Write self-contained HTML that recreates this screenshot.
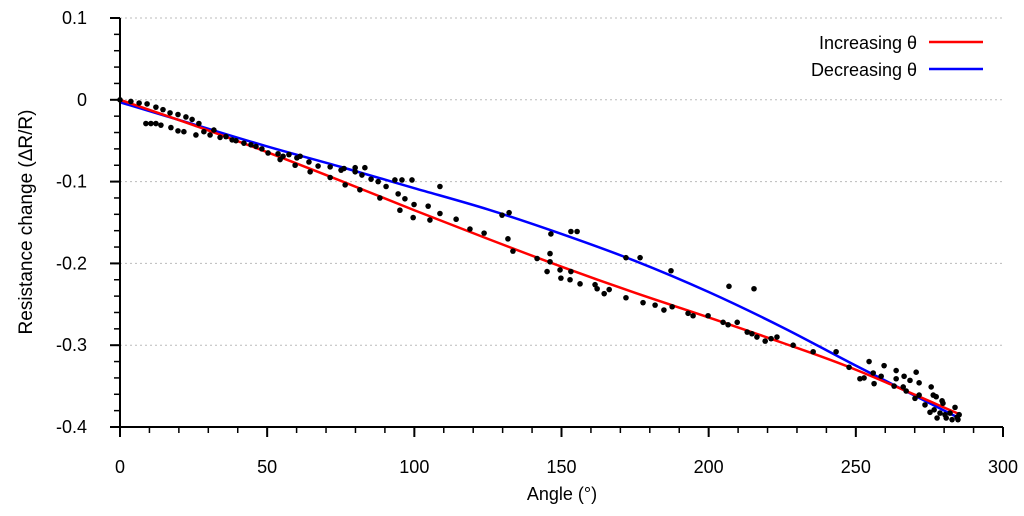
<!DOCTYPE html>
<html><head><meta charset="utf-8"><style>
html,body{margin:0;padding:0;background:#fff;}
svg{display:block;font-family:"Liberation Sans",sans-serif;}
</style></head><body>
<svg id="chart" width="1024" height="516">
<g id="grid"></g>
<g id="curves"></g>
<g id="points"></g>
<g id="axes"></g>
<text x="562" y="500" text-anchor="middle" font-size="18">Angle (°)</text>
<text transform="translate(32,222) rotate(-90)" text-anchor="middle" font-size="19">Resistance change (ΔR/R)</text>
<g>
<g>
<text x="917" y="49" text-anchor="end" font-size="18">Increasing θ</text>
<line x1="929" y1="42" x2="983" y2="42" stroke="#f00" stroke-width="2.5"/></g>
<g>
<text x="917" y="76" text-anchor="end" font-size="18">Decreasing θ</text>
<line x1="929" y1="69" x2="983" y2="69" stroke="#00f" stroke-width="2.5"/></g>
</g>
</svg>
<script>
const xTicks=[0,50,100,150,200,250,300];
const yTicks=[0.1,0,-0.1,-0.2,-0.3,-0.4];
const yTickLabels=["0.1","0","-0.1","-0.2","-0.3","-0.4"];
const incX=[0,25,50,75,100,125,150,175,200,225,250,285];
const incY=[0,-0.031,-0.064,-0.099,-0.135,-0.170,-0.204,-0.236,-0.266,-0.297,-0.330,-0.384];
const decX=[0,25,50,75,100,125,150,175,200,225,250,285];
const decY=[-0.003,-0.030,-0.057,-0.082,-0.108,-0.134,-0.164,-0.197,-0.235,-0.278,-0.325,-0.389];
const ptX=[0,3.7,6.5,9.2,12.2,14.6,17.0,19.7,22.4,24.5,26.8,8.8,10.5,12.2,13.9,17.3,19.7,21.7,25.8,28.5,30.6,31.9,34.0,36.0,38.1,39.4,42.1,44.5,46.2,48.2,50.3,53.7,55.4,57.4,60.1,61.2,64.2,67.3,71.4,75.1,76.1,79.9,82.2,85.3,87.7,90.4,94.5,96.8,99.9,104.7,108.7,114.2,118.9,123.7,131.8,54.4,59.5,64.6,71.4,76.5,81.5,88.3,95.1,99.6,105.3,79.9,83.2,93.4,95.8,99.2,108.7,129.8,132.2,146.4,153.2,155.3,171.9,176.7,187.2,206.9,215.4,243.3,133.5,141.7,145.1,146.1,146.1,149.5,149.8,152.9,153.2,156.3,161.4,162.1,164.5,166.2,171.9,177.7,181.8,184.8,187.6,193.0,194.7,199.8,204.9,206.6,209.7,213.1,214.7,216.4,219.2,221.2,223.2,228.7,235.5,247.7,251.4,252.8,254.5,255.9,256.2,258.6,259.6,263.0,263.7,263.7,266.1,266.4,268.4,267.1,270.5,271.5,270.1,271.5,273.5,275.6,276.3,277.3,279.3,279.6,275.2,277.6,278.6,280.7,282.0,283.7,284.4,285.1,284.7,282.7,280.3,276.6];
const ptY=[0,-0.002,-0.004,-0.005,-0.009,-0.012,-0.016,-0.018,-0.021,-0.024,-0.029,-0.029,-0.029,-0.029,-0.031,-0.034,-0.038,-0.039,-0.043,-0.039,-0.043,-0.037,-0.046,-0.045,-0.049,-0.050,-0.053,-0.055,-0.057,-0.060,-0.065,-0.066,-0.069,-0.067,-0.071,-0.069,-0.076,-0.081,-0.082,-0.086,-0.084,-0.088,-0.092,-0.097,-0.100,-0.106,-0.115,-0.121,-0.128,-0.130,-0.139,-0.146,-0.158,-0.163,-0.170,-0.073,-0.080,-0.088,-0.095,-0.104,-0.110,-0.120,-0.135,-0.144,-0.147,-0.083,-0.083,-0.098,-0.098,-0.098,-0.106,-0.141,-0.138,-0.164,-0.161,-0.161,-0.193,-0.193,-0.209,-0.228,-0.231,-0.308,-0.185,-0.194,-0.210,-0.188,-0.198,-0.208,-0.218,-0.220,-0.210,-0.225,-0.226,-0.231,-0.237,-0.232,-0.242,-0.248,-0.251,-0.257,-0.253,-0.261,-0.264,-0.264,-0.272,-0.275,-0.272,-0.284,-0.286,-0.290,-0.295,-0.292,-0.290,-0.300,-0.308,-0.327,-0.341,-0.340,-0.320,-0.334,-0.347,-0.338,-0.325,-0.350,-0.331,-0.341,-0.351,-0.338,-0.343,-0.356,-0.333,-0.346,-0.365,-0.361,-0.373,-0.351,-0.361,-0.363,-0.368,-0.371,-0.382,-0.389,-0.383,-0.389,-0.383,-0.376,-0.388,-0.385,-0.391,-0.391,-0.385,-0.379];

const X0=120,X1=1003,Y0=427,Y1=18,xmin=0,xmax=300,ymin=-0.4,ymax=0.1;
const sx=v=>X0+(v-xmin)/(xmax-xmin)*(X1-X0);
const sy=v=>Y0-(v-ymin)/(ymax-ymin)*(Y0-Y1);
const NS="http://www.w3.org/2000/svg";
function mk(tag,attrs,parent){const e=document.createElementNS(NS,tag);for(const k in attrs)e.setAttribute(k,attrs[k]);parent.appendChild(e);return e;}
const grid=document.getElementById('grid'),axes=document.getElementById('axes'),curves=document.getElementById('curves'),points=document.getElementById('points');

yTicks.forEach((v,i)=>{
  if(v>ymin){const g=mk('line',{x1:X0,x2:X1,y1:sy(v),y2:sy(v),stroke:'#bbb','stroke-width':1,'stroke-dasharray':'2,3'},grid);
  
  }
  const t=mk('line',{x1:X0-10,x2:X0,y1:sy(v),y2:sy(v),stroke:'#000','stroke-width':2},axes);
  
  
  const l=mk('text',{x:87,y:sy(v)+6,'text-anchor':'end','font-size':18},axes);
  l.textContent=yTickLabels[i];
  
  
});
for(let v=ymin;v<ymax-1e-9;v+=0.02){const m=mk('line',{x1:X0-6,x2:X0,y1:sy(v),y2:sy(v),stroke:'#000','stroke-width':1.5},axes);
  
  }
xTicks.forEach(v=>{
  const t=mk('line',{x1:sx(v),x2:sx(v),y1:Y0,y2:Y0+10,stroke:'#000','stroke-width':2},axes);
  
  
  const l=mk('text',{x:sx(v),y:473,'text-anchor':'middle','font-size':18},axes);
  l.textContent=String(v);
  
  
});
for(let v=xmin;v<=xmax;v+=10){const m=mk('line',{x1:sx(v),x2:sx(v),y1:Y0,y2:Y0+6,stroke:'#000','stroke-width':1.5},axes);
  
  }
const ax=mk('line',{x1:X0,x2:X0,y1:Y1,y2:Y0,stroke:'#000','stroke-width':2},axes);


const bx=mk('line',{x1:X0-1,x2:X1,y1:Y0,y2:Y0,stroke:'#000','stroke-width':2},axes);



function smooth(xs,ys){const p=xs.map((x,i)=>[sx(x),sy(ys[i])]);let d=`M${p[0][0]},${p[0][1]}`;
  for(let i=0;i<p.length-1;i++){const a=p[Math.max(i-1,0)],b=p[i],c=p[i+1],e=p[Math.min(i+2,p.length-1)];
    d+=` C${b[0]+(c[0]-a[0])/6},${b[1]+(c[1]-a[1])/6} ${c[0]-(e[0]-b[0])/6},${c[1]-(e[1]-b[1])/6} ${c[0]},${c[1]}`;}
  return d;}
const dc=mk('path',{d:smooth(decX,decY),fill:'none',stroke:'#00f','stroke-width':2.5},curves);


const ic=mk('path',{d:smooth(incX,incY),fill:'none',stroke:'#f00','stroke-width':2.5},curves);


ptX.forEach((x,i)=>{const c=mk('circle',{cx:sx(x),cy:sy(ptY[i]),r:2.8,fill:'#000'},points);
  
  });
</script>
</body></html>
